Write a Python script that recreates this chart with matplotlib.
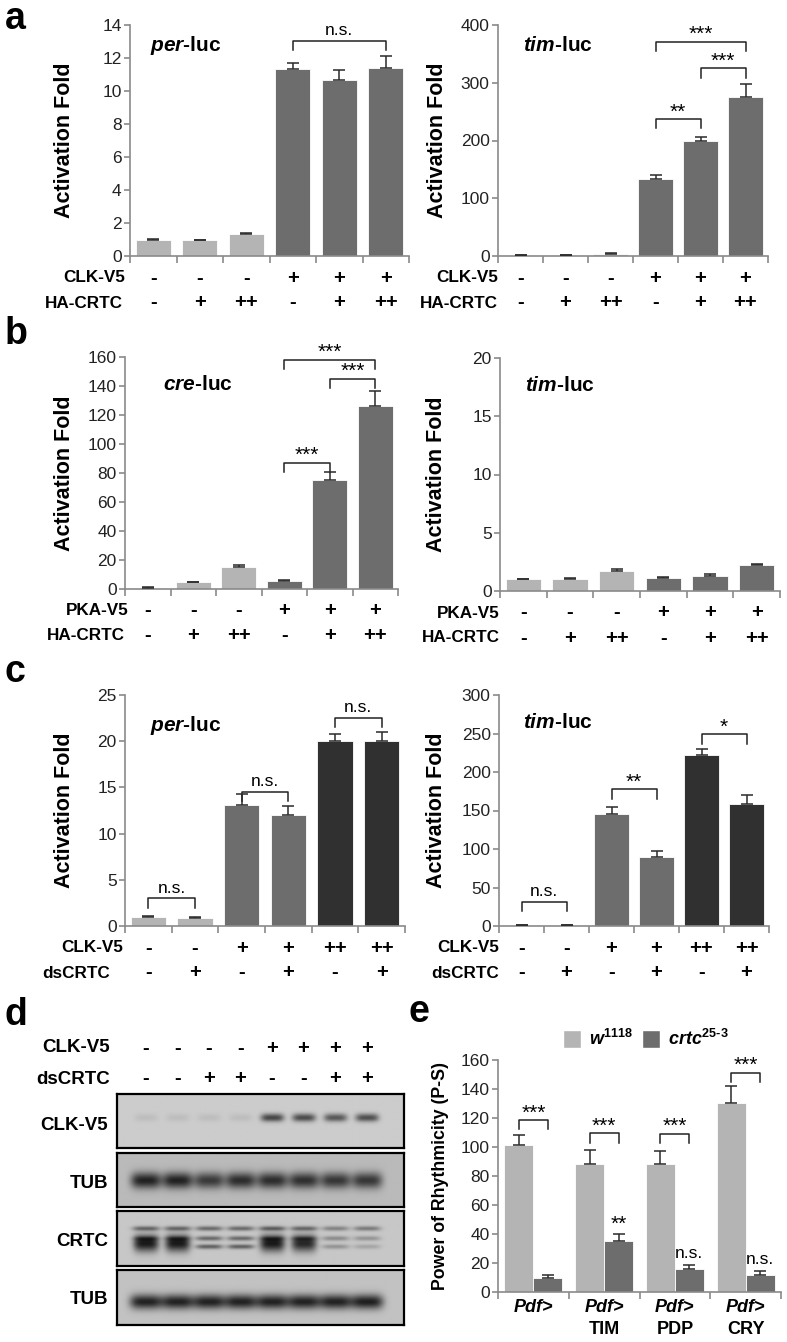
import numpy as np
import matplotlib
matplotlib.use('Agg')
import matplotlib.pyplot as plt
from matplotlib.patches import Rectangle

plt.rcParams['font.family'] = ['Liberation Sans', 'DejaVu Sans']
plt.rcParams['mathtext.fontset'] = 'custom'
plt.rcParams['mathtext.it'] = 'Liberation Sans:italic:bold'
plt.rcParams['mathtext.rm'] = 'Liberation Sans:bold'
plt.rcParams['mathtext.bf'] = 'Liberation Sans:bold'

# ---- data ----
a_per_vals = [1.0, 0.95, 1.33, 11.35, 10.65, 11.4]
a_per_err = [0.03, 0.03, 0.04, 0.35, 0.6, 0.75]
a_tim_vals = [1.0, 1.0, 4.0, 133, 199, 275]
a_tim_err = [0.5, 0.5, 1.5, 8, 7, 22]
b_cre_vals = [1.0, 4.5, 15.0, 5.5, 75, 126.5]
b_cre_err = [0.5, 0.5, 1.5, 0.5, 6, 10]
b_tim_vals = [1.0, 1.05, 1.75, 1.15, 1.25, 2.2]
b_tim_err = [0.05, 0.05, 0.15, 0.08, 0.2, 0.15]
c_per_vals = [1.0, 0.9, 13.05, 12.05, 20.0, 20.05]
c_per_err = [0.05, 0.05, 1.2, 0.9, 0.75, 0.9]
c_tim_vals = [1.0, 1.0, 145, 90, 222, 158]
c_tim_err = [0.5, 0.5, 10, 7, 8, 12]

e_groups = ['TIM', 'PDP', 'CRY']
e_w_vals = [101.5, 88, 88, 130.5]
e_w_err = [7, 10, 9, 11.5]
e_crtc_vals = [10, 35, 16, 12]
e_crtc_err = [2, 5, 2.5, 2.5]
e_dark_labels = ['', '**', 'n.s.', 'n.s.']
e_sig = [(0, 118.6, '***'), (1, 109.4, '***'), (2, 109, '***'), (3, 151.3, '***')]

clk_signs_ab = ['-', '-', '-', '+', '+', '+']
crtc_signs_ab = ['-', '+', '++', '-', '+', '++']
clk_signs_c = ['-', '-', '+', '+', '++', '++']
ds_signs_c = ['-', '+', '-', '+', '-', '+']
d_clk_signs = ['-', '-', '-', '-', '+', '+', '+', '+']
d_ds_signs = ['-', '-', '+', '+', '-', '-', '+', '+']

a_per_sig = [(3, 5, 13.05, 'n.s.')]
a_tim_sig = [(3, 4, 237, '**'), (4, 5, 325, '***'), (3, 5, 371, '***')]
b_cre_sig = [(3, 4, 87, '***'), (4, 5, 145, '***'), (3, 5, 158, '***')]
c_per_sig = [(0, 1, 3.0, 'n.s.'), (2, 3, 14.5, 'n.s.'), (4, 5, 22.5, 'n.s.')]
c_tim_sig = [(0, 1, 31.6, 'n.s.'), (2, 3, 177.5, '**'), (4, 5, 249, '*')]

# western blot band intensities (0 = none, 1 = saturated)
clk_band = [0.08, 0.08, 0.08, 0.08, 0.75, 0.72, 0.65, 0.7]
tub1_band = [0.95, 0.95, 0.8, 0.88, 0.88, 0.86, 0.82, 0.82]
crtc_main = [1.0, 1.0, 0, 0, 1.0, 0.92, 0, 0]
crtc_upper = [0.55, 0.55, 0.55, 0.55, 0.6, 0.55, 0.4, 0.45]
crtc_middle = [0.3, 0.3, 0.55, 0.55, 0.3, 0.3, 0.35, 0.3]
crtc_lower = [0, 0, 0.6, 0.6, 0, 0, 0.3, 0.2]
tub2_band = [0.95, 0.95, 0.95, 0.95, 0.95, 0.95, 0.95, 0.97]

LIGHT = '#b4b4b4'
MID = '#6d6d6d'
DARK = '#303030'
SPINE = '#8a8a8a'

FW, FH = 787, 1342
fig = plt.figure(figsize=(FW / 100, FH / 100), dpi=100)


def px_axes(x0, y0, x1, y1):
    return fig.add_axes([x0 / FW, 1 - y1 / FH, (x1 - x0) / FW, (y1 - y0) / FH])


def style_axes(ax, n, ymax, ystep, tick_fs=12.5):
    ax.set_xlim(-0.5, n - 0.5)
    ax.set_ylim(0, ymax)
    ax.set_yticks(np.arange(0, ymax + ystep / 2, ystep))
    ax.set_xticks(np.arange(-0.5, n, 1.0))
    ax.set_xticklabels([])
    for s in ['top', 'right']:
        ax.spines[s].set_visible(False)
    for s in ['left', 'bottom']:
        ax.spines[s].set_color(SPINE)
        ax.spines[s].set_linewidth(1.2)
    ax.tick_params(axis='both', color=SPINE, width=1.2, length=4, labelsize=tick_fs, pad=2,
                   labelcolor='#222222')
    ax.tick_params(axis='x', length=5)


def bracket(ax, x1, x2, y, label, ymax):
    drop = 0.04 * ymax
    ax.plot([x1, x1, x2, x2], [y - drop, y, y, y - drop], color='#222222', lw=1.1, clip_on=False)
    fs = 12.5 if label == 'n.s.' else 15
    dy = 0.012 * ymax if label == 'n.s.' else -0.01 * ymax
    ax.text((x1 + x2) / 2, y + dy, label, ha='center', va='bottom', fontsize=fs, clip_on=False)


def bar_panel(rect, vals, errs, colors, ymax, ystep, title, title_xy, ylab_dx, rows, sigs, row_dx):
    ax = px_axes(*rect)
    n = len(vals)
    x = np.arange(n)
    ax.bar(x, vals, width=0.76, color=colors, edgecolor='white', linewidth=0.6, zorder=2)
    ax.errorbar(x, vals, yerr=[np.zeros(n), errs], fmt='none', ecolor='#2a2a2a',
                elinewidth=1.1, capsize=4, capthick=1.1, zorder=3)
    style_axes(ax, n, ymax, ystep)
    ax.text(title_xy[0], title_xy[1], title, transform=ax.transAxes, fontsize=15,
            fontweight='bold', ha='left', va='center')
    w = rect[2] - rect[0]
    ax.text(ylab_dx / w, 0.5, 'Activation Fold', transform=ax.transAxes, rotation=90,
            ha='center', va='center', fontsize=15.5, fontweight='bold')
    for (name, signs), dy, rdx in zip(rows, [22, 47], row_dx):
        ax.annotate(name, xy=(0, 0), xycoords='axes fraction', xytext=(rdx * 0.72, -dy * 0.72),
                    textcoords='offset points', ha='right', va='center', fontsize=12.3,
                    fontweight='bold')
        for i, s in enumerate(signs):
            ax.annotate(s, xy=(i, 0), xycoords=('data', 'axes fraction'), xytext=(0, -dy * 0.72),
                        textcoords='offset points', ha='center', va='center', fontsize=14.5,
                        fontweight='bold')
    for x1, x2, y, lab in sigs:
        bracket(ax, x1, x2, y, lab, ymax)
    return ax


ab_cols = [LIGHT] * 3 + [MID] * 3
c_cols = [LIGHT] * 2 + [MID] * 2 + [DARK] * 2

# panel a
bar_panel((130, 25, 409, 256), a_per_vals, a_per_err, ab_cols, 14, 2,
          r'$\mathit{per}$-luc', (0.07, 0.913), -65,
          [('CLK-V5', clk_signs_ab), ('HA-CRTC', crtc_signs_ab)], a_per_sig, (-5, -7))
bar_panel((498, 25, 768, 256), a_tim_vals, a_tim_err, ab_cols, 400, 100,
          r'$\mathit{tim}$-luc', (0.093, 0.91), -61,
          [('CLK-V5', clk_signs_ab), ('HA-CRTC', crtc_signs_ab)], a_tim_sig, (0, 0))
# panel b
bar_panel((125, 357, 398, 589), b_cre_vals, b_cre_err, ab_cols, 160, 20,
          r'$\mathit{cre}$-luc', (0.14, 0.88), -60,
          [('PKA-V5', clk_signs_ab), ('HA-CRTC', crtc_signs_ab)], b_cre_sig, (4, 0))
bar_panel((500, 358, 780, 591), b_tim_vals, b_tim_err, ab_cols, 20, 5,
          r'$\mathit{tim}$-luc', (0.09, 0.88), -63,
          [('PKA-V5', clk_signs_ab), ('HA-CRTC', crtc_signs_ab)], [], (0, 0))
# panel c
bar_panel((125, 695, 405, 926), c_per_vals, c_per_err, c_cols, 25, 5,
          r'$\mathit{per}$-luc', (0.09, 0.87), -60,
          [('CLK-V5', clk_signs_c), ('dsCRTC', ds_signs_c)], c_per_sig, (-2, -15))
bar_panel((499, 695, 769, 926), c_tim_vals, c_tim_err, c_cols, 300, 50,
          r'$\mathit{tim}$-luc', (0.088, 0.88), -63,
          [('CLK-V5', clk_signs_c), ('dsCRTC', ds_signs_c)], c_tim_sig, (0, 0))


# panel d: western blot
def draw_blot(rect, layers, bg):
    ax = px_axes(*rect)
    H, W = 60, 320
    yy, xx = np.mgrid[0:H, 0:W]
    img = np.full((H, W), bg, dtype=float)
    centers = np.linspace(0.1, 0.87, 8) * W
    for intens, yc, sy, sx in layers:
        for cx, a in zip(centers, intens):
            g = np.exp(-((xx - cx) / sx) ** 4 - ((yy - yc * H) / sy) ** 2)
            img -= (bg - 0.1) * a * g
    img = np.clip(img, 0.08, 1)
    ax.imshow(img, cmap='gray', vmin=0, vmax=1, aspect='auto', extent=[0, 1, 1, 0],
              interpolation='bilinear')
    ax.set_xticks([])
    ax.set_yticks([])
    for s in ax.spines.values():
        s.set_linewidth(1.6)
        s.set_color('black')
    return ax


blot_x0, blot_x1 = 117, 404
draw_blot((blot_x0, 1094, blot_x1, 1148), [(clk_band, 0.43, 4.5, 13)], 0.80)
draw_blot((blot_x0, 1153, blot_x1, 1207), [(tub1_band, 0.5, 9, 17)], 0.73)
draw_blot((blot_x0, 1211, blot_x1, 1266),
          [(crtc_main, 0.58, 9, 14), (crtc_upper, 0.31, 2.5, 15),
           (crtc_middle, 0.49, 2.5, 15), (crtc_lower, 0.64, 2.5, 15)], 0.78)
draw_blot((blot_x0, 1270, blot_x1, 1325), [(tub2_band, 0.57, 8, 18)], 0.76)

lane_px = blot_x0 + np.linspace(0.1, 0.87, 8) * (blot_x1 - blot_x0)
for name, signs, ypx in [('CLK-V5', d_clk_signs, 1048), ('dsCRTC', d_ds_signs, 1079)]:
    fig.text(110 / FW, 1 - ypx / FH, name, ha='right', va='center', fontsize=13.5, fontweight='bold')
    for lx, s in zip(lane_px, signs):
        fig.text(lx / FW, 1 - ypx / FH, s, ha='center', va='center', fontsize=14.5, fontweight='bold')
for name, ypx in [('CLK-V5', 1125), ('TUB', 1183), ('CRTC', 1242), ('TUB', 1300)]:
    fig.text(108 / FW, 1 - ypx / FH, name, ha='right', va='center', fontsize=13.5, fontweight='bold')

# panel e
ax = px_axes(498, 1060, 781, 1292)
xg = np.arange(len(e_w_vals))
bw = 0.41
ax.bar(xg - bw / 2, e_w_vals, width=bw, color=LIGHT, edgecolor='white', linewidth=0.6, zorder=2)
ax.bar(xg + bw / 2, e_crtc_vals, width=bw, color=MID, edgecolor='white', linewidth=0.6, zorder=2)
ax.errorbar(xg - bw / 2, e_w_vals, yerr=[np.zeros(4), e_w_err], fmt='none', ecolor='#2a2a2a',
            elinewidth=1.1, capsize=4, capthick=1.1, zorder=3)
ax.errorbar(xg + bw / 2, e_crtc_vals, yerr=[np.zeros(4), e_crtc_err], fmt='none', ecolor='#2a2a2a',
            elinewidth=1.1, capsize=4, capthick=1.1, zorder=3)
style_axes(ax, 4, 160, 20, tick_fs=12.5)
ax.text(-58 / 283, 0.5, 'Power of Rhythmicity (P-S)', transform=ax.transAxes, rotation=90,
        ha='center', va='center', fontsize=12.8, fontweight='bold')
for g, y, lab in e_sig:
    bracket(ax, g - bw / 2, g + bw / 2, y, lab, 160)
for g, lab in enumerate(e_dark_labels):
    if lab:
        top = e_crtc_vals[g] + e_crtc_err[g]
        ax.annotate(lab, xy=(g + bw / 2, top), xytext=(0, 0 if lab == '**' else 3),
                    textcoords='offset points', ha='center', va='bottom',
                    fontsize=15 if lab == '**' else 12.5)
for g in range(4):
    ax.annotate('Pdf>', xy=(g, 0), xycoords=('data', 'axes fraction'), xytext=(0, -16 * 0.72),
                textcoords='offset points', ha='center', va='center', fontsize=13,
                fontweight='bold', fontstyle='italic')
for g, lab in enumerate(e_groups, start=1):
    ax.annotate(lab, xy=(g, 0), xycoords=('data', 'axes fraction'), xytext=(0, -38 * 0.72),
                textcoords='offset points', ha='center', va='center', fontsize=13,
                fontweight='bold')

# legend for e
fig.patches.append(Rectangle((563 / FW, 1 - 1048 / FH), 18 / FW, 18 / FH, transform=fig.transFigure,
                             facecolor=LIGHT, edgecolor='white', figure=fig))
fig.patches.append(Rectangle((642 / FW, 1 - 1048 / FH), 18 / FW, 18 / FH, transform=fig.transFigure,
                             facecolor=MID, edgecolor='white', figure=fig))
fig.text(589 / FW, 1 - 1039 / FH, r'$\mathit{w^{1118}}$', ha='left', va='center', fontsize=13)
fig.text(668 / FW, 1 - 1039 / FH, r'$\mathit{crtc^{25\text{-}3}}$', ha='left', va='center', fontsize=13)

# panel letters (baseline positions)
for lab, xpx, ypx in [('a', 5, 29), ('b', 5, 344), ('c', 5, 682), ('d', 5, 1025), ('e', 408, 1022)]:
    fig.text(xpx / FW, 1 - ypx / FH, lab, ha='left', va='baseline', fontsize=27, fontweight='bold')

fig.savefig('out.png', dpi=100)
